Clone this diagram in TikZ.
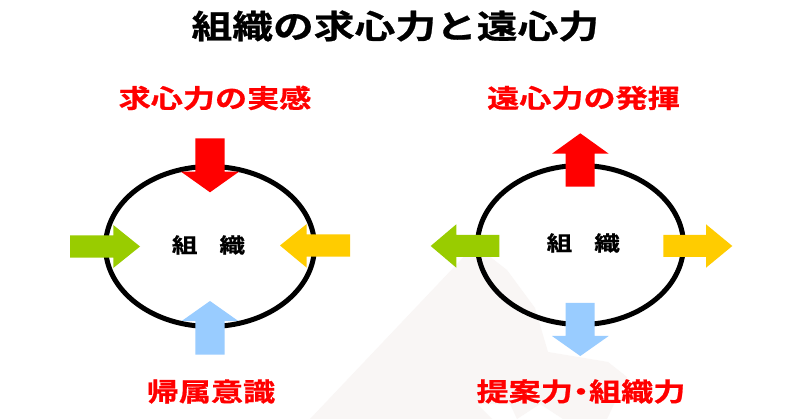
\documentclass[tikz,border=0pt]{standalone}
\usepackage{fontspec}
\newfontfamily\jpfont[FakeStretch=1.25,BoldFont={Noto Sans CJK JP Bold},BoldFeatures={FakeBold=0.8}]{Noto Sans CJK JP}
\definecolor{arrred}{HTML}{FF0000}
\definecolor{arrgreen}{HTML}{99CC00}
\definecolor{arryellow}{HTML}{FFCC00}
\definecolor{arrblue}{HTML}{99CCFF}
\definecolor{faint}{HTML}{F9F6F5}
\usetikzlibrary{shapes.geometric}
\tikzset{
  x=1pt,y=-1pt,
  ring/.style={draw=black,line width=5pt,ellipse,inner sep=0pt,minimum width=#1},
  titletext/.style={font=\jpfont\bfseries\fontsize{32.6}{36}\selectfont,text=black,inner sep=0pt},
  headtext/.style={font=\jpfont\bfseries\fontsize{25.7}{30}\selectfont,text=arrred,inner sep=0pt},
  orgtext/.style={font=\jpfont\bfseries\fontsize{20.5}{24}\selectfont,text=black,inner sep=0pt},
}
\begin{document}
\begin{tikzpicture}
\useasboundingbox (0,0) rectangle (800,419);
\fill[white] (0,0) rectangle (800,419);
\fill[faint] (475,245) -- (310,419) -- (492,419) -- (477,404) -- (510,404) -- (517,419) -- (540,404) -- (563,419) -- (607,419) -- (627,377) -- (608,362) -- (548,352) -- (535,308) -- (507,270) -- cycle;
\node[ring=209pt,minimum height=160pt] (left) at (210,246.5) {};
\node[ring=206pt,minimum height=159pt] (right) at (580.5,245) {};
% left arrows
\fill[arrred] (195.3,138.3) -- (224.7,138.3) -- (224.7,171.7) -- (239,171.7) -- (210,192.3) -- (181,171.7) -- (195.3,171.7) -- cycle;
\fill[arrgreen] (70,235.3) -- (113.3,235.3) -- (113.3,225) -- (140,246.5) -- (113.3,268) -- (113.3,257.7) -- (70,257.7) -- cycle;
\fill[arryellow] (350,234.3) -- (306.7,234.3) -- (306.7,224) -- (280,245.5) -- (306.7,267.7) -- (306.7,256.7) -- (350,256.7) -- cycle;
\fill[arrblue] (195.3,354.7) -- (224.7,354.7) -- (224.7,321) -- (238.3,321) -- (210,301) -- (181.7,321) -- (195.3,321) -- cycle;
% right arrows
\fill[arrred] (565.7,186.7) -- (594.7,186.7) -- (594.7,153.7) -- (608.7,153.7) -- (580.3,133.3) -- (552,153.7) -- (565.7,153.7) -- cycle;
\fill[arrgreen] (499.3,235) -- (456.3,235) -- (456.3,224.3) -- (430.7,246) -- (456.3,267.7) -- (456.3,257) -- (499.3,257) -- cycle;
\fill[arryellow] (663.3,235) -- (706,235) -- (706,224.3) -- (732.3,246) -- (706,267.7) -- (706,257) -- (663.3,257) -- cycle;
\fill[arrblue] (565.7,303) -- (594.7,303) -- (594.7,336) -- (608.7,336) -- (580.3,356) -- (552,336) -- (565.7,336) -- cycle;
% text
\node[titletext] (title) at (395.3,26) {組織の求心力と遠心力};
\node[headtext] (h1) at (215,98) {求心力の実感};
\node[headtext] (h2) at (583.5,98) {遠心力の発揮};
\node[headtext] (h3) at (211,391.5) {帰属意識};
\node[headtext] (h4) at (581,391.5) {提案力\kern-8pt・\kern-8pt組織力};
\node[orgtext] (o1) at (208.5,245) {組\kern22pt織};
\node[orgtext] (o2) at (583.3,243) {組\kern22pt織};
\end{tikzpicture}
\end{document}
